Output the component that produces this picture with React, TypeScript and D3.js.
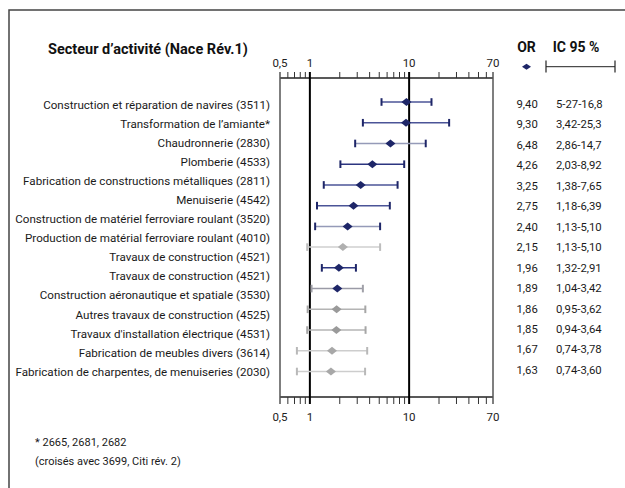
import React from "react";
import * as d3 from "d3";

const labels = [
  "Construction et réparation de navires (3511)",
  "Transformation de l’amiante*",
  "Chaudronnerie (2830)",
  "Plomberie (4533)",
  "Fabrication de constructions métalliques (2811)",
  "Menuiserie (4542)",
  "Construction de matériel ferroviare roulant (3520)",
  "Production de matérial ferroviare roulant (4010)",
  "Travaux de construction (4521)",
  "Travaux de construction (4521)",
  "Construction aéronautique et spatiale (3530)",
  "Autres travaux de construction (4525)",
  "Travaux d'installation électrique (4531)",
  "Fabrication de meubles divers (3614)",
  "Fabrication de charpentes, de menuiseries (2030)",
];

const orValues = [9.4, 9.3, 6.48, 4.26, 3.25, 2.75, 2.4, 2.15, 1.96, 1.89, 1.86, 1.85, 1.67, 1.63];
const ciLow = [5.27, 3.42, 2.86, 2.03, 1.38, 1.18, 1.13, 0.94, 1.32, 1.04, 0.95, 0.94, 0.74, 0.74];
const ciHigh = [16.8, 25.3, 14.7, 8.92, 7.65, 6.39, 5.1, 5.1, 2.91, 3.42, 3.62, 3.64, 3.78, 3.6];
const orText = ["9,40", "9,30", "6,48", "4,26", "3,25", "2,75", "2,40", "2,15", "1,96", "1,89", "1,86", "1,85", "1,67", "1,63"];
const ciText = ["5-27-16,8", "3,42-25,3", "2,86-14,7", "2,03-8,92", "1,38-7,65", "1,18-6,39", "1,13-5,10", "1,13-5,10", "1,32-2,91", "1,04-3,42", "0,95-3,62", "0,94-3,64", "0,74-3,78", "0,74-3,60"];
// significance group of each row
const groups = ["a", "a", "b", "c", "a", "a", "b", "n", "c", "m", "g", "g", "l", "l"];

const tickLabels = ["0,5", "1", "10", "70"];
const tickValues = [0.5, 1, 10, 70];
const minorTicks = [0.6, 0.7, 0.8, 0.9, 2, 3, 4, 5, 6, 7, 8, 9, 20, 30, 40, 50, 60];

const NAVY = "#1e2668";
const styleFor: Record<string, { m: string; l: string; c: string }> = {
  a: { m: NAVY, l: "#4b5497", c: NAVY },
  b: { m: NAVY, l: "#959ab8", c: NAVY },
  c: { m: NAVY, l: "#2c3580", c: NAVY },
  n: { m: "#b0b0b0", l: "#cfcfcf", c: "#bdbdbd" },
  m: { m: NAVY, l: "#9a9aa6", c: "#a0a0a8" },
  g: { m: "#9a9a9a", l: "#b4b4b4", c: "#a6a6a6" },
  l: { m: "#a8a8a8", l: "#cdcdcd", c: "#b8b8b8" },
};

const FONT = "Roboto, 'Liberation Sans', sans-serif";

export default function App() {
  const x = d3.scaleLog().domain([0.5, 70]).range([280, 493]);
  const yRow = d3.scaleLinear().domain([0, orValues.length - 1]).range([102, 371.5]);
  const yVal = d3.scaleLinear().domain([0, orValues.length - 1]).range([104, 370]);
  const yLab = d3.scaleLinear().domain([0, labels.length - 1]).range([104.5, 371.7]);
  const top = 78;
  const bottom = 397;
  const diamond = (cx: number, cy: number, w = 5, h = 4) =>
    `M${cx - w},${cy}L${cx},${cy - h}L${cx + w},${cy}L${cx},${cy + h}Z`;

  return (
    <svg width={625} height={488} style={{ position: "absolute", left: 0, top: 0, background: "#fff" }} fontFamily={FONT}>
      <rect x={9} y={10} width={800} height={800} fill="none" stroke="#444" strokeWidth={1.5} />
      <text x={48} y={54} fontSize={14.5} fontWeight="bold" fill="#111">Secteur d’activité (Nace Rév.1)</text>
      <text x={526.5} y={52} fontSize={14} fontWeight="bold" fill="#111" textAnchor="middle">OR</text>
      <text x={576} y={52} fontSize={14} fontWeight="bold" fill="#111" textAnchor="middle">IC 95 %</text>
      <path d={diamond(526.5, 66.7, 4.5, 3)} fill={NAVY} />
      <line x1={546} x2={615} y1={66.7} y2={66.7} stroke="#222" strokeWidth={1} />
      <line x1={546} x2={546} y1={60.5} y2={72.5} stroke="#222" strokeWidth={1.2} />
      <line x1={615} x2={615} y1={60.5} y2={72.5} stroke="#222" strokeWidth={1.2} />

      {/* axes */}
      {[top, bottom].map((yy, k) => (
        <g key={k}>
          <line x1={x(0.5)} x2={x(70)} y1={yy} y2={yy} stroke="#222" strokeWidth={1.5} />
          {minorTicks.map((t) => (
            <line key={t} x1={x(t)} x2={x(t)} y1={yy} y2={k === 0 ? yy - 6 : yy + 7} stroke="#333" strokeWidth={1} />
          ))}
          {tickValues.map((t, i) => (
            <text key={t} x={x(t)} y={k === 0 ? 67 : 421} fontSize={11.5} textAnchor="middle" fill="#222">{tickLabels[i]}</text>
          ))}
        </g>
      ))}
      <line x1={x(0.5)} x2={x(0.5)} y1={top - 6} y2={bottom + 7} stroke="#555" strokeWidth={1.5} />
      <line x1={x(70)} x2={x(70)} y1={top - 6} y2={bottom + 7} stroke="#555" strokeWidth={1.5} />
      <line x1={x(1)} x2={x(1)} y1={top - 6} y2={bottom + 7} stroke="#000" strokeWidth={2} />
      <line x1={x(10)} x2={x(10)} y1={top - 6} y2={bottom + 7} stroke="#000" strokeWidth={2} />

      {/* labels */}
      {labels.map((l, i) => (
        <text key={i} x={270} y={yLab(i)} dy="0.35em" fontSize={11.6} textAnchor="end" fill="#1a1a1a">{l}</text>
      ))}

      {/* forest marks */}
      {orValues.map((v, i) => {
        const s = styleFor[groups[i]];
        const cy = yRow(i);
        return (
          <g key={i}>
            <line x1={x(ciLow[i])} x2={x(ciHigh[i])} y1={cy} y2={cy} stroke={s.l} strokeWidth={1.5} />
            <line x1={x(ciLow[i])} x2={x(ciLow[i])} y1={cy - 3.8} y2={cy + 3.8} stroke={s.c} strokeWidth={2} />
            <line x1={x(ciHigh[i])} x2={x(ciHigh[i])} y1={cy - 3.8} y2={cy + 3.8} stroke={s.c} strokeWidth={2} />
            <path d={diamond(x(v), cy)} fill={s.m} />
          </g>
        );
      })}

      {/* values */}
      {orText.map((t, i) => (
        <g key={i}>
          <text x={516.5} y={yVal(i)} dy="0.35em" fontSize={11.3} fill="#1a1a1a">{t}</text>
          <text x={556} y={yVal(i)} dy="0.35em" fontSize={11.3} fill="#1a1a1a">{ciText[i]}</text>
        </g>
      ))}

      <text x={35} y={445.5} fontSize={11} fill="#1a1a1a">* 2665, 2681, 2682</text>
      <text x={35} y={465} fontSize={11} fill="#1a1a1a">(croisés avec 3699, Citi rév. 2)</text>
    </svg>
  );
}
